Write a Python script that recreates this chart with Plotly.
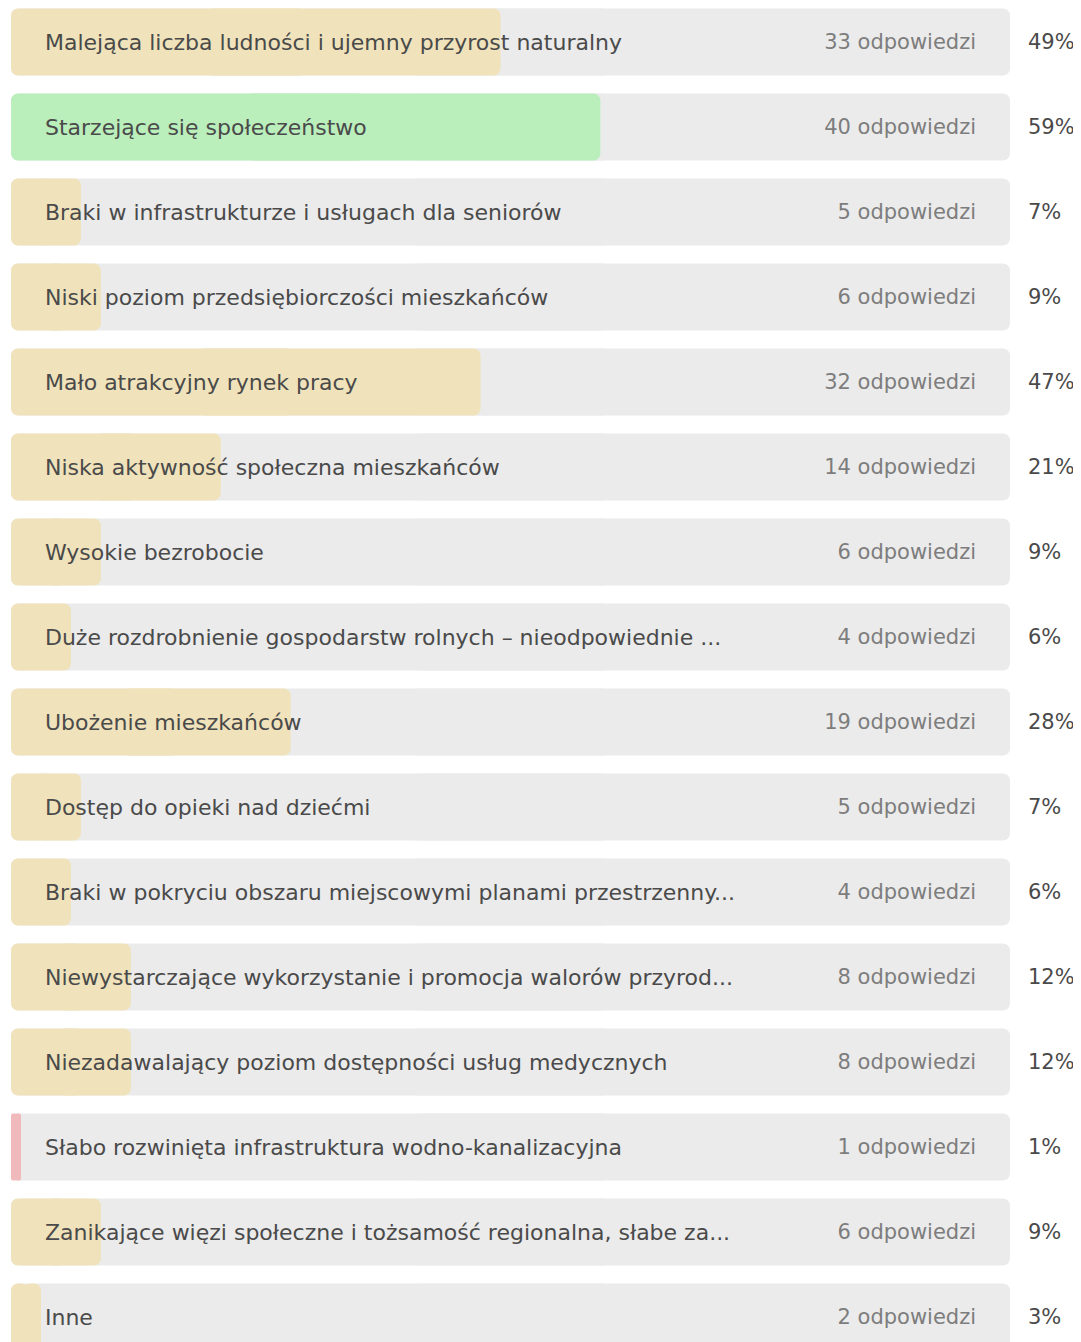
import plotly.graph_objects as go

categories = [
    "Malejąca liczba ludności i ujemny przyrost naturalny",
    "Starzejące się społeczeństwo",
    "Braki w infrastrukturze i usługach dla seniorów",
    "Niski poziom przedsiębiorczości mieszkańców",
    "Mało atrakcyjny rynek pracy",
    "Niska aktywność społeczna mieszkańców",
    "Wysokie bezrobocie",
    "Duże rozdrobnienie gospodarstw rolnych – nieodpowiednie ...",
    "Ubożenie mieszkańców",
    "Dostęp do opieki nad dziećmi",
    "Braki w pokryciu obszaru miejscowymi planami przestrzenny...",
    "Niewystarczające wykorzystanie i promocja walorów przyrod...",
    "Niezadawalający poziom dostępności usług medycznych",
    "Słabo rozwinięta infrastruktura wodno-kanalizacyjna",
    "Zanikające więzi społeczne i tożsamość regionalna, słabe za...",
    "Inne",
]
counts = [33, 40, 5, 6, 32, 14, 6, 4, 19, 5, 4, 8, 8, 1, 6, 2]
percents = [49, 59, 7, 9, 47, 21, 9, 6, 28, 7, 6, 12, 12, 1, 9, 3]
count_labels = [f"{c} odpowiedzi" for c in counts]
percent_labels = [f"{p}%" for p in percents]

BEIGE = "#F0E3BB"
GREEN = "#BAEFBC"
PINK = "#F0B9BB"
GRAY = "#EBEBEB"
FONT = "DejaVu Sans"

n = len(categories)
ys = list(range(n))
mx, mn = max(percents), min(percents)
colors = [GREEN if p == mx else (PINK if p == mn else BEIGE) for p in percents]

# page body has an 8px default margin
BODY = 8
W, H = 1081 - BODY, 1342 - BODY
left_px = 11 - BODY
px_per_unit = 9.99  # 100% == 999 px
plot_w = W - left_px
x_max = plot_w / px_per_unit
pitch = 85.0
first_center = 42.0 - BODY
y_top = -first_center / pitch
y_bot = (H - first_center) / pitch
bar_w = 67.0 / pitch
R = 7
text_dy = 2.0 / pitch  # nudge text baseline down a little
ys_text = [y + text_dy for y in ys]

fig = go.Figure()


def add_rounded(values, color):
    # two overlapping halves so that both ends get rounded corners
    fig.add_trace(go.Bar(
        x=[-0.6 * v for v in values], base=[0.6 * v for v in values], y=ys,
        orientation="h", width=bar_w,
        marker=dict(color=color, cornerradius=R, line=dict(width=0)),
        hoverinfo="skip", showlegend=False,
    ))
    fig.add_trace(go.Bar(
        x=[0.6 * v for v in values], base=[0.4 * v for v in values], y=ys,
        orientation="h", width=bar_w,
        marker=dict(color=color, cornerradius=R, line=dict(width=0)),
        hoverinfo="skip", showlegend=False,
    ))


add_rounded([100] * n, GRAY)
add_rounded(percents, colors)

fig.add_trace(go.Scatter(
    x=[3.4] * n, y=ys_text, mode="text", text=categories,
    textposition="middle right",
    textfont=dict(family=FONT, size=22, color="#4A4A4A"),
    hoverinfo="skip", showlegend=False,
))
fig.add_trace(go.Scatter(
    x=[96.6] * n, y=ys_text, mode="text", text=count_labels,
    textposition="middle left",
    textfont=dict(family=FONT, size=21, color="#7D7D7D"),
    hoverinfo="skip", showlegend=False,
))
fig.add_trace(go.Scatter(
    x=[101.8] * n, y=ys_text, mode="text", text=percent_labels,
    textposition="middle right",
    textfont=dict(family=FONT, size=21, color="#4A4A4A"),
    hoverinfo="skip", showlegend=False,
))

fig.update_layout(
    width=W, height=H,
    margin=dict(l=left_px, r=0, t=0, b=0),
    barmode="overlay",
    plot_bgcolor="white", paper_bgcolor="white",
    xaxis=dict(range=[0, x_max], visible=False, fixedrange=True),
    yaxis=dict(range=[y_bot, y_top], visible=False, fixedrange=True),
)

fig.write_html("out.html", config={"displayModeBar": False})
